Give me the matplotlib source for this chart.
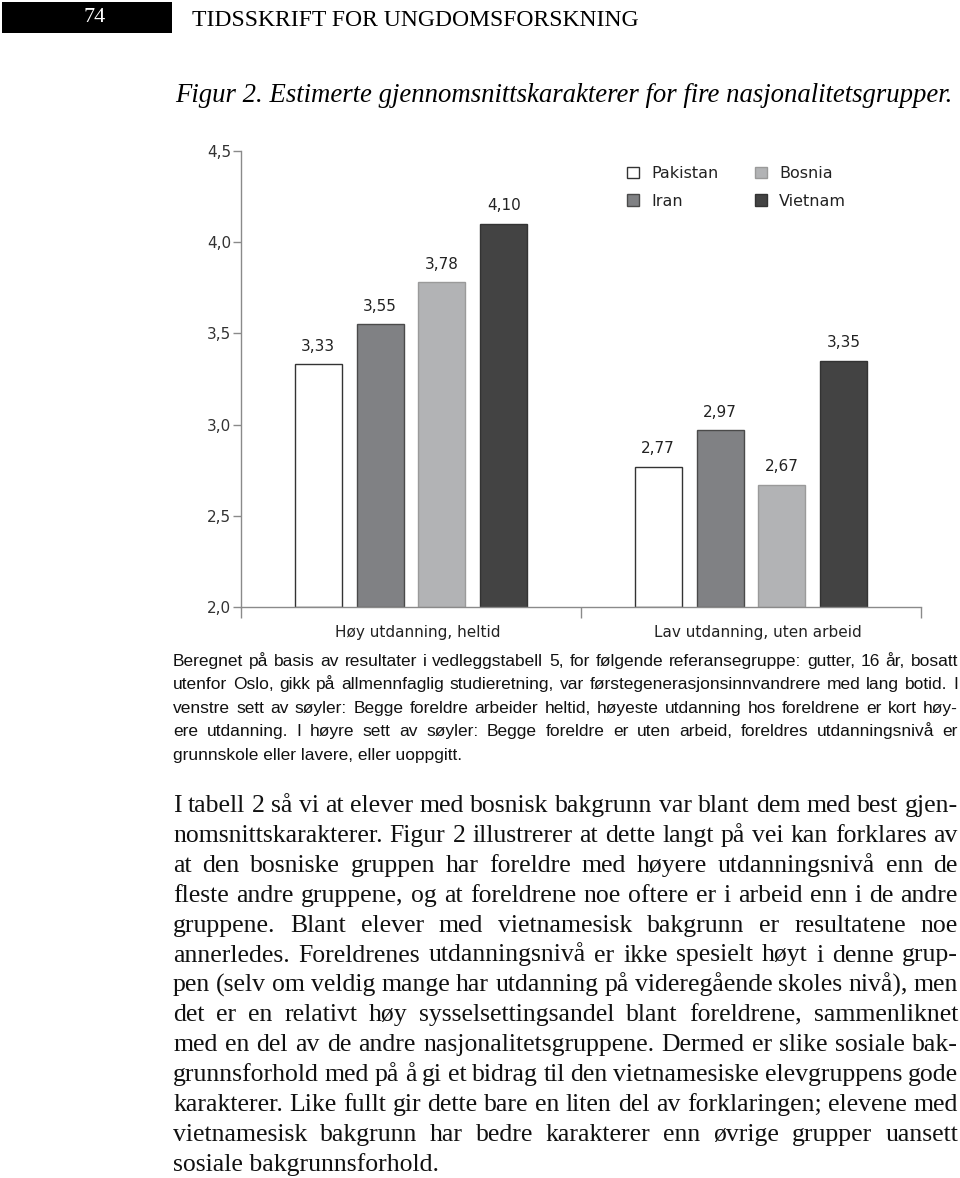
import matplotlib
matplotlib.use('Agg')
import matplotlib.pyplot as plt
from matplotlib.patches import Rectangle
from matplotlib import font_manager
import numpy as np

# --- data ---
groups = ['Høy utdanning, heltid', 'Lav utdanning, uten arbeid']
countries = ['Pakistan', 'Iran', 'Bosnia', 'Vietnam']
pakistan = [3.33, 2.77]
iran = [3.55, 2.97]
bosnia = [3.78, 2.67]
vietnam = [4.10, 3.35]
yticks = [2.0, 2.5, 3.0, 3.5, 4.0, 4.5]

header_num = '74'
header_text = 'TIDSSKRIFT FOR UNGDOMSFORSKNING'
title = 'Figur 2. Estimerte gjennomsnittskarakterer for fire nasjonalitetsgrupper.'

caption_lines = [
    'Beregnet på basis av resultater i vedleggstabell 5, for følgende referansegruppe: gutter, 16 år, bosatt',
    'utenfor Oslo, gikk på allmennfaglig studieretning, var førstegenerasjonsinnvandrere med lang botid. I',
    'venstre sett av søyler: Begge foreldre arbeider heltid, høyeste utdanning hos foreldrene er kort høy-',
    'ere utdanning. I høyre sett av søyler: Begge foreldre er uten arbeid, foreldres utdanningsnivå er',
    'grunnskole eller lavere, eller uoppgitt.',
]

body_lines = [
    'I tabell 2 så vi at elever med bosnisk bakgrunn var blant dem med best gjen-',
    'nomsnittskarakterer. Figur 2 illustrerer at dette langt på vei kan forklares av',
    'at den bosniske gruppen har foreldre med høyere utdanningsnivå enn de',
    'fleste andre gruppene, og at foreldrene noe oftere er i arbeid enn i de andre',
    'gruppene. Blant elever med vietnamesisk bakgrunn er resultatene noe',
    'annerledes. Foreldrenes utdanningsnivå er ikke spesielt høyt i denne grup-',
    'pen (selv om veldig mange har utdanning på videregående skoles nivå), men',
    'det er en relativt høy sysselsettingsandel blant foreldrene, sammenliknet',
    'med en del av de andre nasjonalitetsgruppene. Dermed er slike sosiale bak-',
    'grunnsforhold med på å gi et bidrag til den vietnamesiske elevgruppens gode',
    'karakterer. Like fullt gir dette bare en liten del av forklaringen; elevene med',
    'vietnamesisk bakgrunn har bedre karakterer enn øvrige grupper uansett',
    'sosiale bakgrunnsforhold.',
]

W, H = 960, 1178
names = {f.name for f in font_manager.fontManager.ttflist}
cap_font = 'Liberation Sans Narrow' if 'Liberation Sans Narrow' in names else 'Liberation Sans'
cap_size = 13.5 if cap_font == 'Liberation Sans Narrow' else 12.5
serif = 'Liberation Serif'
chart_font = 'DejaVu Sans'

fig = plt.figure(figsize=(W / 100, H / 100), dpi=100)
renderer = fig.canvas.get_renderer()

def fx(px):
    return px / W

def fy(py):
    return 1 - py / H

# --- page header ---
fig.add_artist(Rectangle((fx(2), fy(33)), 170 / W, 31 / H, transform=fig.transFigure,
                         facecolor='black', edgecolor='none'))
fig.text(fx(95), fy(18), header_num, color='white', family=serif, fontsize=16,
         ha='center', va='center')
fig.text(fx(192), fy(26), header_text, color='black', family=serif, fontsize=17,
         ha='left', va='baseline')
fig.text(fx(175), fy(102), title, family=serif, style='italic', fontsize=19.3,
         ha='left', va='baseline')

# --- chart ---
ax = fig.add_axes([fx(241), fy(607), 680 / W, 456 / H])
x = np.arange(len(groups))
step = 0.182
width = 0.138
series = [pakistan, iran, bosnia, vietnam]
colors = ['white', '#808184', '#b2b3b5', '#434343']
edges = ['#333333', '#4a4a4a', '#9a9a9a', '#333333']
bars = []
for i, (vals, c, e, name) in enumerate(zip(series, colors, edges, countries)):
    b = ax.bar(x + (i - 1.5) * step, np.array(vals) - 2.0, width, bottom=2.0,
               color=c, edgecolor=e, linewidth=1, label=name)
    bars.append(b)
    for xi, v in zip(x + (i - 1.5) * step, vals):
        ax.annotate(f'{v:.2f}'.replace('.', ','), (xi, v), xytext=(0, 13),
                    textcoords='offset points', ha='center', va='center',
                    family=chart_font, fontsize=11, color='#222222')

ax.set_xlim(-0.5, 1.5)
ax.set_ylim(2.0, 4.5)
ax.set_yticks(yticks)
ax.set_yticklabels([f'{t:.1f}'.replace('.', ',') for t in yticks],
                   family=chart_font, fontsize=11, color='#333333')
ax.set_xticks([-0.5, 0.5, 1.5])
ax.set_xticklabels([])
ax.tick_params(axis='y', length=6, width=1, color='#8a8a8a', pad=1)
ax.tick_params(axis='x', length=8, width=1, color='#8a8a8a')
for s in ['top', 'right']:
    ax.spines[s].set_visible(False)
for s in ['left', 'bottom']:
    ax.spines[s].set_color('#8a8a8a')
    ax.spines[s].set_linewidth(1)

for xi, g in zip(x, groups):
    ax.text(xi + 0.02, -25 / 456, g, transform=ax.get_xaxis_transform(),
            ha='center', va='center', family=chart_font, fontsize=11, color='#222222')

leg = ax.legend(handles=bars, ncol=2, loc='upper left',
                bbox_to_anchor=(fx(627), fy(166)), bbox_transform=fig.transFigure,
                frameon=False, handlelength=0.75, handleheight=0.75, handletextpad=0.75,
                columnspacing=2.3, labelspacing=0.8, borderpad=0, borderaxespad=0,
                prop={'family': chart_font, 'size': 11.5})
for t in leg.get_texts():
    t.set_color('#222222')

# --- justified text blocks ---
def justify(lines, x0, x1, y0, dy, **kw):
    for i, line in enumerate(lines):
        y = fy(y0 + i * dy)
        words = line.split(' ')
        if i == len(lines) - 1:
            fig.text(fx(x0), y, line, va='baseline', ha='left', **kw)
            continue
        arts = [fig.text(0, y, w, va='baseline', ha='left', **kw) for w in words]
        widths = [a.get_window_extent(renderer).width for a in arts]
        gap = (x1 - x0 - sum(widths)) / (len(words) - 1)
        xp = x0
        for a, w in zip(arts, widths):
            a.set_x(fx(xp))
            xp += w + gap

justify(caption_lines, 173, 958, 666, 23.4, family=cap_font, fontsize=cap_size, color='#111111')
justify(body_lines, 173, 958, 812, 29.9, family=serif, fontsize=18.5, color='#111111')

fig.savefig('out.png', dpi=100)
